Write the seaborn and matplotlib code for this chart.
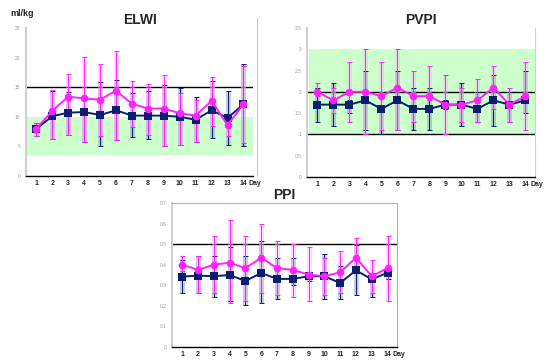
import numpy as np
import pandas as pd
import matplotlib.pyplot as plt
import seaborn as sns

days = list(range(1, 15))

# ELWI (ml/kg)
elwi_pink = [8.0, 11.0, 13.4, 13.1, 12.9, 14.4, 12.2, 11.4, 11.4, 10.6, 10.2, 12.7, 8.6, 12.1]
elwi_pink_lo = [6.8, 6.2, 7.0, 5.8, 6.7, 6.0, 8.3, 6.9, 5.0, 5.3, 5.8, 8.5, 6.7, 5.6]
elwi_pink_hi = [9.0, 14.6, 17.3, 20.1, 18.9, 21.1, 16.0, 15.6, 17.0, 14.0, 12.9, 16.8, 9.5, 18.6]
elwi_navy = [8.0, 10.1, 10.7, 10.8, 10.3, 11.1, 10.2, 10.2, 10.2, 10.0, 9.5, 11.1, 9.8, 12.1]
elwi_navy_lo = [6.8, 6.2, 7.0, 5.8, 5.0, 6.0, 6.6, 6.2, 5.0, 5.3, 5.8, 6.4, 5.3, 5.1]
elwi_navy_hi = [9.0, 14.3, 14.2, 11.5, 15.8, 16.2, 14.1, 14.4, 15.3, 14.8, 13.4, 16.0, 14.4, 18.9]

# PVPI
pvpi_pink = [2.0, 1.8, 2.0, 2.0, 1.9, 2.1, 1.9, 1.9, 1.7, 1.7, 1.8, 2.1, 1.7, 1.9]
pvpi_pink_lo = [1.9, 1.5, 1.3, 1.0, 1.1, 1.1, 1.3, 1.8, 1.0, 1.3, 1.3, 1.6, 1.3, 1.1]
pvpi_pink_hi = [2.2, 2.1, 2.7, 3.0, 2.7, 3.0, 2.5, 2.6, 2.4, 2.1, 2.3, 2.6, 2.1, 2.7]
pvpi_navy = [1.7, 1.7, 1.7, 1.8, 1.6, 1.8, 1.6, 1.6, 1.7, 1.7, 1.6, 1.8, 1.7, 1.8]
pvpi_navy_lo = [1.3, 1.2, 1.5, 1.1, 1.0, 1.1, 1.1, 1.1, 1.6, 1.2, 1.3, 1.2, 1.3, 1.5]
pvpi_navy_hi = [2.1, 2.2, 1.8, 2.5, 1.7, 2.5, 2.1, 2.1, 1.8, 2.2, 2.0, 2.4, 2.0, 2.5]

# PPI
ppi_pink = [0.40, 0.375, 0.40, 0.41, 0.383, 0.434, 0.383, 0.375, 0.352, 0.344, 0.363, 0.434, 0.344, 0.383]
ppi_pink_lo = [0.37, 0.263, 0.263, 0.213, 0.223, 0.263, 0.253, 0.242, 0.223, 0.253, 0.263, 0.37, 0.263, 0.223]
ppi_pink_hi = [0.442, 0.442, 0.542, 0.616, 0.542, 0.60, 0.513, 0.50, 0.484, 0.432, 0.465, 0.532, 0.421, 0.542]
ppi_navy = [0.342, 0.347, 0.344, 0.35, 0.321, 0.36, 0.331, 0.331, 0.344, 0.344, 0.311, 0.373, 0.329, 0.361]
ppi_navy_lo = [0.263, 0.263, 0.242, 0.223, 0.203, 0.213, 0.232, 0.30, 0.32, 0.232, 0.232, 0.253, 0.242, 0.33]
ppi_navy_hi = [0.421, 0.44, 0.442, 0.484, 0.442, 0.513, 0.432, 0.432, 0.36, 0.452, 0.392, 0.494, 0.36, 0.38]

PINK = '#ff22ff'
NAVY = '#0a1f6e'

sns.set_style('white')
plt.rcParams['font.family'] = ['Liberation Sans', 'DejaVu Sans']

fig = plt.figure(figsize=(5.47, 3.6), dpi=100)
W, H = 547, 360


def axes_px(x0, y0, x1, y1):
    return fig.add_axes([x0 / W, 1 - y1 / H, (x1 - x0) / W, (y1 - y0) / H])


def draw(ax, pink, plo, phi, navy, nlo, nhi, title, ymax, ystep, fmt):
    df = pd.DataFrame({'day': days * 2, 'val': navy + pink,
                       'grp': ['n'] * 14 + ['p'] * 14})
    for y, lo, hi, c, bc in [(navy, nlo, nhi, NAVY, '#7a88b0'),
                             (pink, plo, phi, PINK, '#ffaaff')]:
        y = np.array(y)
        err = [y - np.array(lo), np.array(hi) - y]
        err = np.clip(err, 0, None)
        ax.errorbar(days, y, yerr=err, fmt='none', ecolor=bc, elinewidth=3.5, alpha=0.45, zorder=2)
        ax.errorbar(days, y, yerr=err, fmt='none', ecolor=c, elinewidth=0.7, capsize=1.8,
                    capthick=0.7, zorder=3)
    sns.lineplot(data=df, x='day', y='val', hue='grp', style='grp',
                 palette={'n': NAVY, 'p': PINK}, markers={'n': 's', 'p': 'o'},
                 dashes=False, markersize=5.5, linewidth=1.4, markeredgewidth=0,
                 legend=False, ax=ax, zorder=4)
    ax.set_xlim(0.35, 14.6)
    ax.set_ylim(0, ymax)
    ticks = np.arange(0, ymax + ystep / 2, ystep)
    ax.set_yticks(ticks)
    ax.set_yticklabels([fmt(t) for t in ticks], fontsize=3.5, color='#9a9a9a')
    ax.set_xticks(days)
    ax.set_xticklabels([str(d) for d in days], fontsize=5, fontweight='bold')
    ax.set_xticks(np.arange(0.5, 15, 1), minor=True)
    ax.tick_params(axis='x', which='minor', length=2, color='#bbbbbb')
    ax.tick_params(axis='x', which='major', length=0, pad=3)
    ax.tick_params(axis='y', length=0, pad=4)
    ax.set_xlabel('')
    ax.set_ylabel('')
    ax.set_title(title, fontsize=10, fontweight='bold', pad=3)
    ax.annotate('Day', xy=(14.3, 0), xycoords='data', xytext=(0, -3),
                textcoords='offset points', fontsize=5, fontweight='bold',
                va='top', ha='left', annotation_clip=False)
    ax.spines['bottom'].set_color('black')
    ax.spines['bottom'].set_linewidth(1)
    ax.spines['left'].set_color('#d0d0d0')
    ax.spines['left'].set_linewidth(1.5)
    for s in ['top', 'right']:
        ax.spines[s].set_visible(False)


ax1 = axes_px(26, 28, 253, 176)
ax1.axhspan(3.5, 10, color='#ccffcc', zorder=0, lw=0)
ax1.axhline(15, color='black', lw=1, zorder=1)
draw(ax1, elwi_pink, elwi_pink_lo, elwi_pink_hi, elwi_navy, elwi_navy_lo, elwi_navy_hi,
     'ELWI', 25, 5, lambda t: f'{t:g}')
fig.text(10 / W, 1 - 14 / H, 'ml/kg', fontsize=6.5, fontweight='bold', va='center')
fig.add_artist(plt.Line2D([257 / W, 257 / W], [1 - 18 / H, 1 - 176 / H], color='#ffaaaa', lw=0.8))

ax2 = axes_px(307, 28, 535, 177)
ax2.axhspan(1, 3, xmin=0.01, color='#ccffcc', zorder=0, lw=0)
ax2.axhline(1, color='black', lw=1, zorder=1)
ax2.axhline(2, color='black', lw=1, zorder=1)
draw(ax2, pvpi_pink, pvpi_pink_lo, pvpi_pink_hi, pvpi_navy, pvpi_navy_lo, pvpi_navy_hi,
     'PVPI', 3.5, 0.5, lambda t: f'{t:g}')
ax2.spines['right'].set_visible(True)
ax2.spines['right'].set_color('#d0d0d0')

ax3 = axes_px(172, 203, 397, 347)
ax3.axhline(0.5, color='black', lw=1, zorder=1)
draw(ax3, ppi_pink, ppi_pink_lo, ppi_pink_hi, ppi_navy, ppi_navy_lo, ppi_navy_hi,
     'PPI', 0.7, 0.1, lambda t: f'{t:.1f}' if t > 0 else '0')
for s in ['top', 'right']:
    ax3.spines[s].set_visible(True)
    ax3.spines[s].set_color('#b0b0b0')
    ax3.spines[s].set_linewidth(0.8)

fig.savefig('out.png', dpi=100)
